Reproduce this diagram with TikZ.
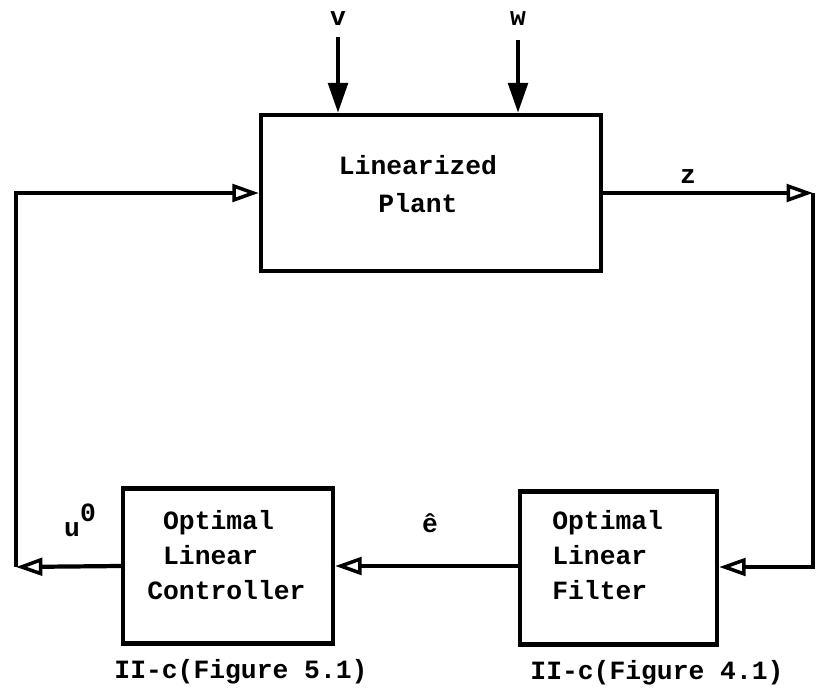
\documentclass[tikz,border=0pt]{standalone}
\usepackage{fontspec}
\setmainfont{Liberation Mono}
\usetikzlibrary{arrows.meta}
\begin{document}
\begin{tikzpicture}[x=0.02cm,y=-0.02cm]
\tikzset{
  blk/.style={draw, line width=2.5pt, inner sep=0},
  lbl/.style={font=\fontsize{15}{20}\selectfont\bfseries, inner sep=0},
  flow/.style={line width=2.4pt, -{Triangle[open, length=15pt, width=10pt, line width=2pt]}},
  plain/.style={line width=2.6pt},
  inp/.style={line width=2.5pt, -{Triangle[length=17pt, width=11pt]}}
}
\useasboundingbox (0,0) rectangle (819,700);
% boxes
\node[blk, minimum width=6.8cm, minimum height=3.12cm] (plant) at (431,193) {};
\node[blk, minimum width=4.2cm, minimum height=3.1cm] (ctrl) at (228,566) {};
\node[blk, minimum width=3.94cm, minimum height=3.06cm] (filt) at (618.5,568) {};
% box texts
\node[lbl, align=center, font=\fontsize{15}{21.6}\selectfont\bfseries] (plantt) at (418,184) {Linearized\\Plant};
\node[lbl, align=left, anchor=west] (ctrlt) at (147,555) {~Optimal\\~Linear\\Controller};
\node[lbl, align=left, anchor=west] (filtt) at (552,555) {Optimal\\Linear\\Filter};
% captions
\node[lbl] (cap1) at (241,672) {II-c(Figure 5.1)};
\node[lbl] (cap2) at (657,673) {II-c(Figure 4.1)};
% signal labels
\node[lbl] (v) at (338,19) {v};
\node[lbl] (w) at (518,19) {w};
\node[lbl] (z) at (688,177) {z};
\node[lbl] (eh) at (430,523) {ê};
\node[lbl] (u) at (80,520) {u\raisebox{1.1ex}{0}};
% coordinates
\coordinate (vt) at (338,37);
\coordinate (wt) at (518,40);
\coordinate (zr) at (813,193);
\coordinate (zb) at (813,567);
\coordinate (cl) at (16,567);
\coordinate (ct) at (16,193);
% connectors
\draw[inp] (vt) -- (vt |- plant.north);
\draw[inp] (wt) -- (wt |- plant.north);
\draw[flow] (plant.east) -- (zr);
\draw[plain, line join=miter] (zr) -- (zb) -- ([xshift=-10pt]zb);
\draw[flow] (zb) -- (zb -| filt.east);
\draw[flow] (filt.west |- ctrl.east) -- (ctrl.east);
\draw[flow] (ctrl.west) -- (cl);
\draw[plain, line join=miter] (cl) -- (ct) -- ([xshift=10pt]ct);
\draw[flow] (ct) -- (plant.west);
\end{tikzpicture}
\end{document}
